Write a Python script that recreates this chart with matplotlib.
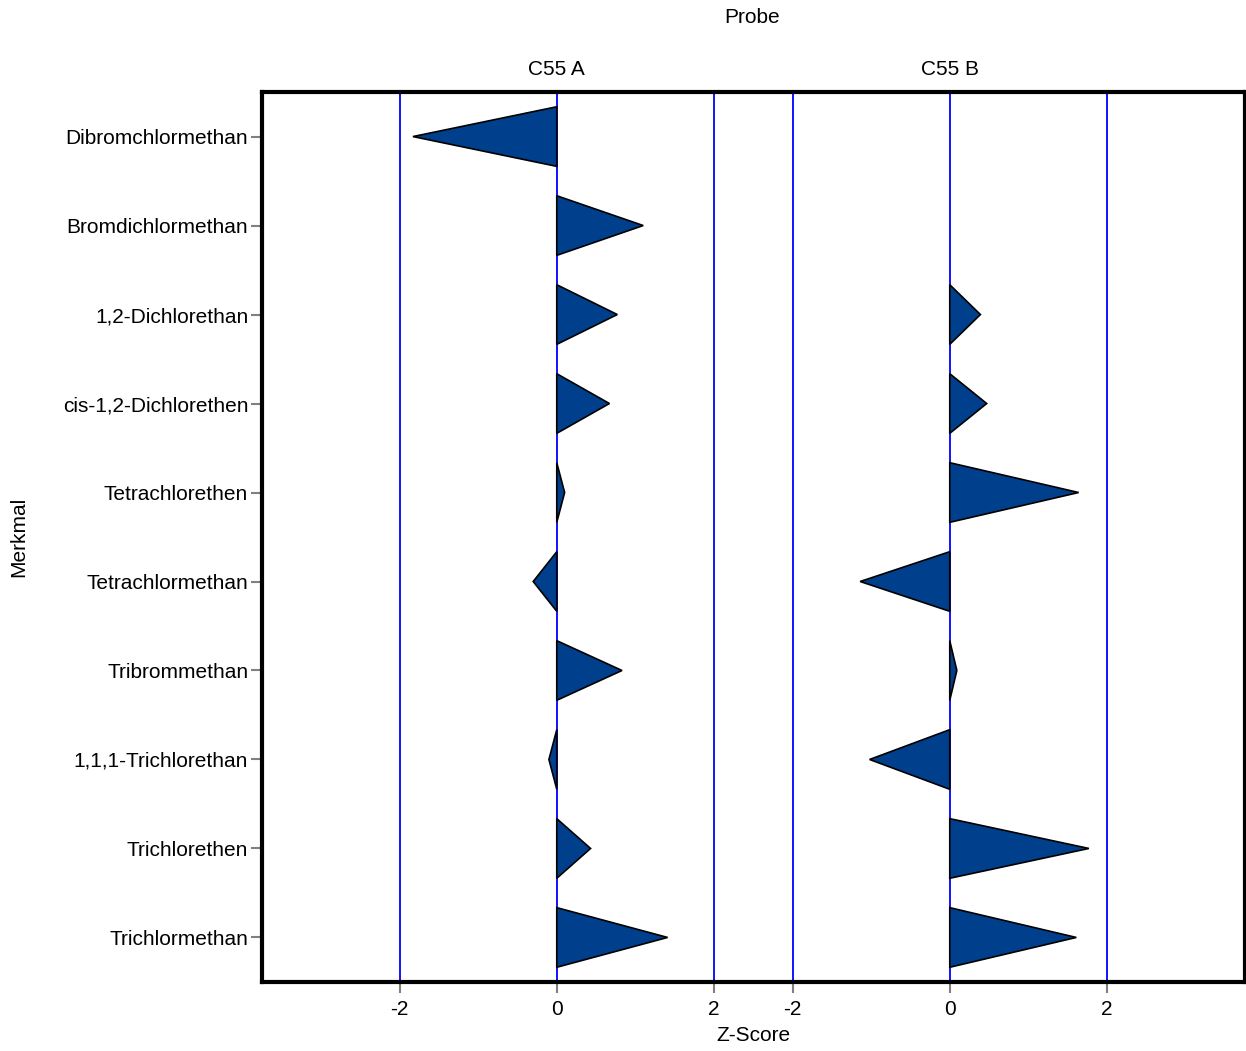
import numpy as np
import matplotlib.pyplot as plt
from matplotlib.patches import Polygon

plt.rcParams['font.family'] = ['Liberation Sans', 'DejaVu Sans']

merkmale = ['Dibromchlormethan', 'Bromdichlormethan', '1,2-Dichlorethan',
            'cis-1,2-Dichlorethen', 'Tetrachlorethen', 'Tetrachlormethan',
            'Tribrommethan', '1,1,1-Trichlorethan', 'Trichlorethen', 'Trichlormethan']
probes = ['C55 A', 'C55 B']
z_a = [-1.83, 1.10, 0.77, 0.67, 0.10, -0.30, 0.83, -0.10, 0.43, 1.41]
z_b = [np.nan, np.nan, 0.39, 0.47, 1.64, -1.14, 0.09, -1.02, 1.77, 1.61]
ref_lines = [-2, 0, 2]

offset = 5.0   # panel B shifted right on the shared axis
half = 0.335   # half height of triangle base (rows)
fs = 15

fig = plt.figure(figsize=(12.46, 10.51), dpi=100)
ax = fig.add_axes([0.2103, 0.0657, 0.7885, 0.8467])

for k, vals in enumerate([z_a, z_b]):
    off = k * offset
    for r in ref_lines:
        ax.axvline(off + r, color='#0000ff', lw=1.3, zorder=1)
    for i, v in enumerate(vals):
        if np.isnan(v):
            continue
        tri = Polygon([(off, i - half), (off + v, i), (off, i + half)],
                      closed=True, facecolor='#003f8c', edgecolor='black',
                      lw=1.2, zorder=3)
        ax.add_patch(tri)
    # probe label above the frame
    ax.annotate(probes[k], xy=(off, 1), xycoords=ax.get_xaxis_transform(),
                xytext=(0, 23), textcoords='offset pixels',
                ha='center', va='center', fontsize=fs)

ax.set_xlim(-3.75, 8.75)
ax.set_ylim(len(merkmale) - 0.5, -0.5)
ax.set_yticks(range(len(merkmale)))
ax.set_yticklabels(merkmale, fontsize=fs)
xt = [r for r in ref_lines] + [offset + r for r in ref_lines]
ax.set_xticks(xt)
ax.set_xticklabels([str(r) for r in ref_lines] * 2, fontsize=fs)
ax.tick_params(axis='y', color='gray', length=8, width=1.5, pad=2)
ax.tick_params(axis='x', color='gray', length=8, width=1.5, pad=5)
for s in ax.spines.values():
    s.set_linewidth(3)
    s.set_color('black')

ax.set_xlabel('Z-Score', fontsize=fs, labelpad=5)
ax.set_ylabel('Merkmal', fontsize=fs)
ax.yaxis.set_label_coords(-0.238, 0.5)
fig.text(0.6036, 0.983, 'Probe', ha='center', va='center', fontsize=fs)

plt.savefig('out.png', dpi=100)
